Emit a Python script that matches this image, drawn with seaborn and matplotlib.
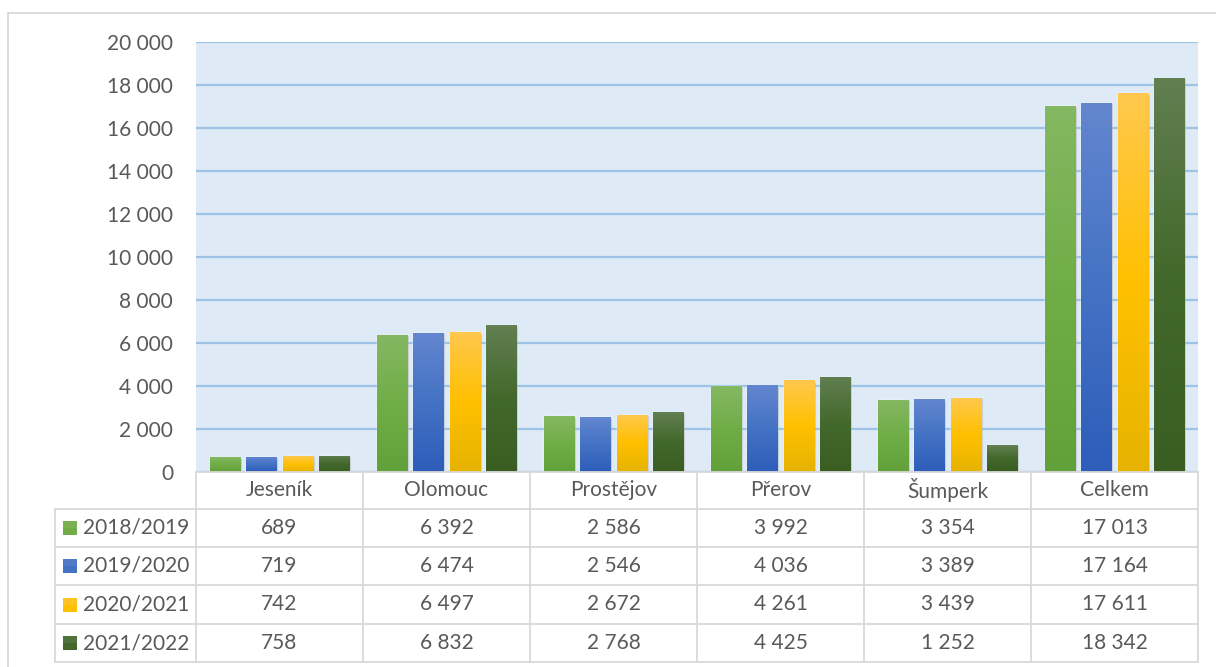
import numpy as np
import pandas as pd
import matplotlib
matplotlib.use("Agg")
import matplotlib.pyplot as plt
import matplotlib.patheffects as pe
from matplotlib.colors import to_rgb
from matplotlib.patches import Rectangle
from matplotlib.lines import Line2D
import seaborn as sns

# ---- data ----
categories = ["Jeseník", "Olomouc", "Prostějov", "Přerov", "Šumperk", "Celkem"]
years = ["2018/2019", "2019/2020", "2020/2021", "2021/2022"]
v_2018_2019 = [689, 6392, 2586, 3992, 3354, 17013]
v_2019_2020 = [719, 6474, 2546, 4036, 3389, 17164]
v_2020_2021 = [742, 6497, 2672, 4261, 3439, 17611]
v_2021_2022 = [758, 6832, 2768, 4425, 1252, 18342]
series = [v_2018_2019, v_2019_2020, v_2020_2021, v_2021_2022]
yticks = list(range(0, 20001, 2000))

# gradient colours (top, middle, bottom) per series
grad = [("#84B862", "#70AD47", "#62A139"),
        ("#6386CF", "#4472C4", "#2E5DBA"),
        ("#FFC84D", "#FFC000", "#E6B300"),
        ("#617F51", "#43682B", "#3A5E22")]
palette = [g[1] for g in grad]

df = pd.DataFrame([(c, y, s[i]) for y, s in zip(years, series)
                   for i, c in enumerate(categories)],
                  columns=["obec", "rok", "pocet"])

def fmt(v):
    return f"{int(v):,}".replace(",", " ")

W, H = 1216, 667
TXT = "#595959"
LINE = "#D9D9D9"
FS = 15

sns.set_theme(style="white")
plt.rcParams["font.family"] = ["Lato", "DejaVu Sans"]

fig = plt.figure(figsize=(W / 100, H / 100), dpi=100)
fig.patch.set_facecolor("white")

def fx(x):
    return x / W

def fy(y):
    return 1 - y / H

ax_l, ax_r, ax_t, ax_b = 196, 1198, 42, 472
ax = fig.add_axes([fx(ax_l), fy(ax_b), (ax_r - ax_l) / W, (ax_b - ax_t) / H])
ax.set_facecolor("#DEEAF6")

sns.barplot(data=df, x="obec", y="pocet", hue="rok", order=categories,
            hue_order=years, palette=palette, width=0.87, gap=0.17,
            saturation=1, ax=ax, legend=False, zorder=3)

ax.set_xlim(-0.5, len(categories) - 0.5)
ax.set_ylim(0, 20000)
ax.set_yticks(yticks)
ax.set_yticklabels([fmt(t) for t in yticks], fontsize=FS, color=TXT)
ax.tick_params(axis="y", length=0, pad=16.5)
ax.set_xticks([])
ax.set_xlabel("")
ax.set_ylabel("")
for s in ax.spines.values():
    s.set_visible(False)
ax.set_axisbelow(True)
ax.yaxis.grid(True, color="#9DC3E6", linewidth=1.6)

# gradient fill + soft shadow on every bar
n_cat = len(categories)
for k, patch in enumerate(ax.patches):
    si = k // n_cat
    top, mid, bot = [np.array(to_rgb(c)) for c in grad[si]]
    t = np.linspace(0, 1, 64)[:, None]
    col = np.where(t < 0.5, top + (mid - top) * (t / 0.5),
                   mid + (bot - mid) * ((t - 0.5) / 0.5))
    img = col[:, None, :]
    x0, y0 = patch.get_x(), patch.get_y()
    w, h = patch.get_width(), patch.get_height()
    patch.set_path_effects([pe.SimplePatchShadow(offset=(1.5, -1.0),
                                                 shadow_rgbFace="#7F7F7F",
                                                 alpha=0.35),
                            pe.Normal()])
    im = ax.imshow(img, extent=(x0, x0 + w, y0, y0 + h), aspect="auto",
                   origin="upper", zorder=4, interpolation="bilinear")
    im.set_clip_path(patch)

ax.set_xlim(-0.5, len(categories) - 0.5)
ax.set_ylim(0, 20000)

# ---- data table drawn under the plot ----
col_x = [ax_l + i * (ax_r - ax_l) / n_cat for i in range(n_cat + 1)]
row_y = [472, 509, 547, 585, 624, 662]
tab_l = 55

def hline(y, x0, x1):
    fig.add_artist(Line2D([fx(x0), fx(x1)], [fy(y), fy(y)], color=LINE,
                          linewidth=1.3, transform=fig.transFigure, zorder=10))

def vline(x, y0, y1):
    fig.add_artist(Line2D([fx(x), fx(x)], [fy(y0), fy(y1)], color=LINE,
                          linewidth=1.3, transform=fig.transFigure, zorder=10))

hline(row_y[0], ax_l, ax_r)
for y in row_y[1:]:
    hline(y, tab_l, ax_r)
vline(tab_l, row_y[1], row_y[-1])
for x in col_x:
    vline(x, row_y[0], row_y[-1])

# header: category names
for i, c in enumerate(categories):
    cx = (col_x[i] + col_x[i + 1]) / 2
    cy = (row_y[0] + row_y[1]) / 2
    fig.text(fx(cx), fy(cy), c, ha="center", va="center", fontsize=FS, color=TXT)

# rows: legend key + year + values
for r, (yr, vals) in enumerate(zip(years, series)):
    cy = (row_y[r + 1] + row_y[r + 2]) / 2
    key = Rectangle((fx(63), fy(cy + 7)), 14 / W, 14 / H,
                    transform=fig.transFigure, facecolor=grad[r][1],
                    edgecolor="none", zorder=11)
    fig.add_artist(key)
    top = Rectangle((fx(63), fy(cy)), 14 / W, 7 / H, transform=fig.transFigure,
                    facecolor=grad[r][0], alpha=0.45, edgecolor="none", zorder=12)
    fig.add_artist(top)
    fig.text(fx(83), fy(cy), yr, ha="left", va="center", fontsize=FS, color=TXT)
    for i, v in enumerate(vals):
        cx = (col_x[i] + col_x[i + 1]) / 2
        fig.text(fx(cx), fy(cy), fmt(v), ha="center", va="center",
                 fontsize=FS, color=TXT)

# outer chart border (top and left visible)
hline(13, 8, W)
vline(8, 13, H)

fig.savefig("out.png", dpi=100, facecolor="white")
